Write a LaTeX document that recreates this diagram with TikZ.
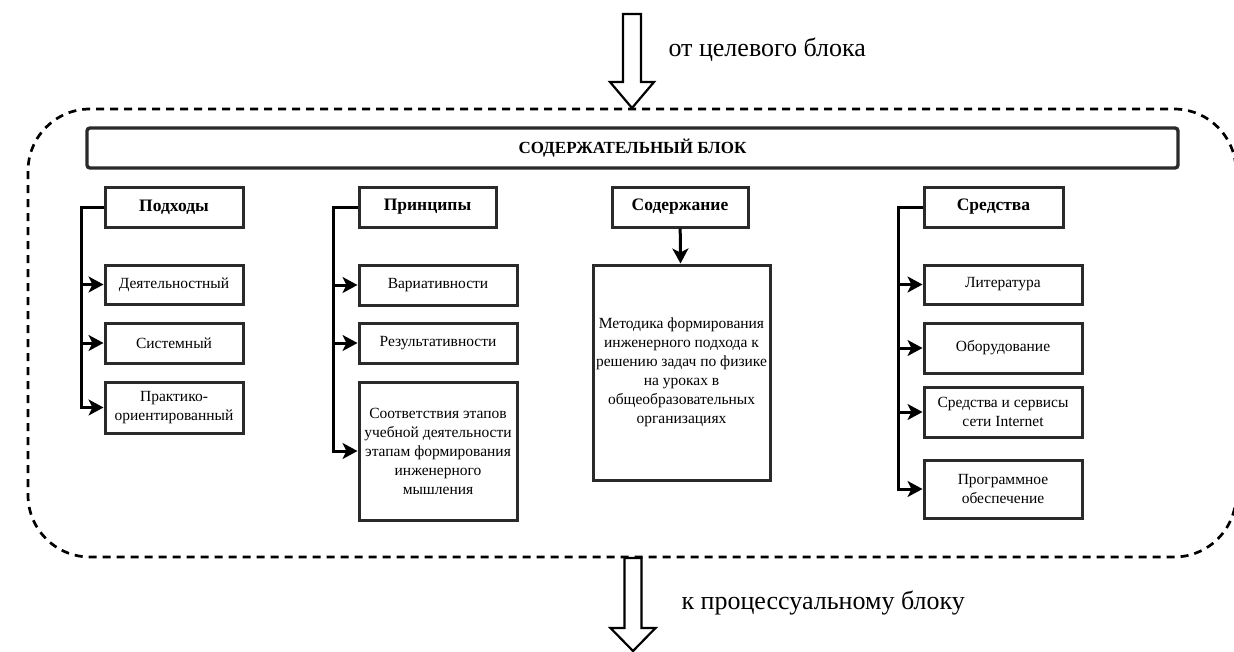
\documentclass[tikz,border=0pt]{standalone}
\usepackage{fontspec}
\setmainfont{Liberation Serif}
\usetikzlibrary{arrows.meta, positioning, calc}
\definecolor{boxline}{HTML}{2A2A2A}
\tikzset{%
   % plain framed box, sizes given per node
   box/.style={
      draw=boxline,
      line width=3pt,
      fill=white,
      align=center,
      inner sep=1pt,
      font=\fontsize{15.5}{19}\selectfont
   },
   head/.style={
      box,
      font=\bfseries\fontsize{17.5}{20}\selectfont
   },
   branch/.style={
      line width=3pt,
      -{Stealth[length=15pt, width=16pt, inset=4pt]}
   },
   fat/.style={
      draw=black,
      fill=white,
      line width=2.2pt,
      line join=miter
   },
   big/.style={
      font=\fontsize{26}{30}\selectfont
   },
}

\begin{document}
\begin{tikzpicture}[x=1pt, y=-1pt]
   \useasboundingbox (0,0) rectangle (1234,651);

   % outer dashed frame
   \draw[line width=2.7pt, dash pattern=on 8pt off 6pt, rounded corners=62pt]
      (28,109) rectangle (1236,557);

   % arrows in and out of the block
   \coordinate (in) at (632,14);
   \draw[fat] (in) ++(-9,0) -- ++(0,68) -- ++(-13,0) -- ++(22,26)
      -- ++(22,-26) -- ++(-13,0) -- ++(0,-68) -- cycle;
   \node[big, anchor=west] (from) at (665,50) {от целевого блока};

   \coordinate (out) at (633,558);
   \draw[fat] (out) ++(-8.5,0) -- ++(0,70) -- ++(-14,0) -- ++(22.5,23)
      -- ++(22.5,-23) -- ++(-14,0) -- ++(0,-70) -- cycle;
   \node[big, anchor=west] (to) at (678,603) {к процессуальному блоку};

   \node[box, rounded corners=3pt, line width=3.4pt, minimum width=1091pt,
      minimum height=40pt, font=\bfseries\fontsize{17}{20}\selectfont]
      (title) at (632.5,148) {СОДЕРЖАТЕЛЬНЫЙ БЛОК};

   % approaches
   \node[head, minimum width=138pt, minimum height=40pt] (app) at (174,207) {Подходы};
   \node[box, minimum width=138pt, minimum height=39pt] (app1) at (174,284.5) {Деятельностный};
   \node[box, minimum width=138pt, minimum height=40pt] (app2) at (174,343) {Системный};
   \node[box, minimum width=138pt, minimum height=51pt] (app3) at (174,407.5) {Практико-\\ориентированный};
   \coordinate (appx) at (81,0);
   \draw[branch] (app.west) -- (appx |- app.west) |- (app3.west);
   \foreach \b in {app1, app2}
      \draw[branch] (appx |- \b.west) -- (\b.west);

   % principles
   \node[head, minimum width=137pt, minimum height=40pt] (pri) at (427.5,207) {Принципы};
   \node[box, minimum width=158pt, minimum height=40pt] (pri1) at (438,285) {Вариативности};
   \node[box, minimum width=158pt, minimum height=40pt] (pri2) at (438,343) {Результативности};
   \node[box, minimum width=158pt, minimum height=138pt] (pri3) at (438,451)
      {Соответствия этапов\\учебной деятельности\\этапам формирования\\инженерного\\мышления};
   \coordinate (prix) at (333,0);
   \draw[branch] (pri.west) -- (prix |- pri.west) |- (pri3.west);
   \foreach \b in {pri1, pri2}
      \draw[branch] (prix |- \b.west) -- (\b.west);

   % content
   \node[head, minimum width=136pt, minimum height=40pt] (con) at (680,207) {Содержание};
   \node[box, minimum width=177pt, minimum height=215pt] (con1) at (681.5,372.5)
      {Методика формирования\\инженерного подхода к\\решению задач по физике\\на уроках в\\общеобразовательных\\организациях};
   \draw[branch] (con) -- (con1);

   % means
   \node[head, minimum width=139pt, minimum height=40pt] (mea) at (993.5,207) {Средства};
   \node[box, minimum width=158pt, minimum height=39pt] (mea1) at (1003,284.5) {Литература};
   \node[box, minimum width=158pt, minimum height=50pt] (mea2) at (1003,348) {Оборудование};
   \node[box, minimum width=158pt, minimum height=50pt] (mea3) at (1003,412) {Средства и сервисы\\сети Internet};
   \node[box, minimum width=158pt, minimum height=58pt] (mea4) at (1003,489) {Программное\\обеспечение};
   \coordinate (meax) at (898,0);
   \draw[branch] (mea.west) -- (meax |- mea.west) |- (mea4.west);
   \foreach \b in {mea1, mea2, mea3}
      \draw[branch] (meax |- \b.west) -- (\b.west);
\end{tikzpicture}
\end{document}
